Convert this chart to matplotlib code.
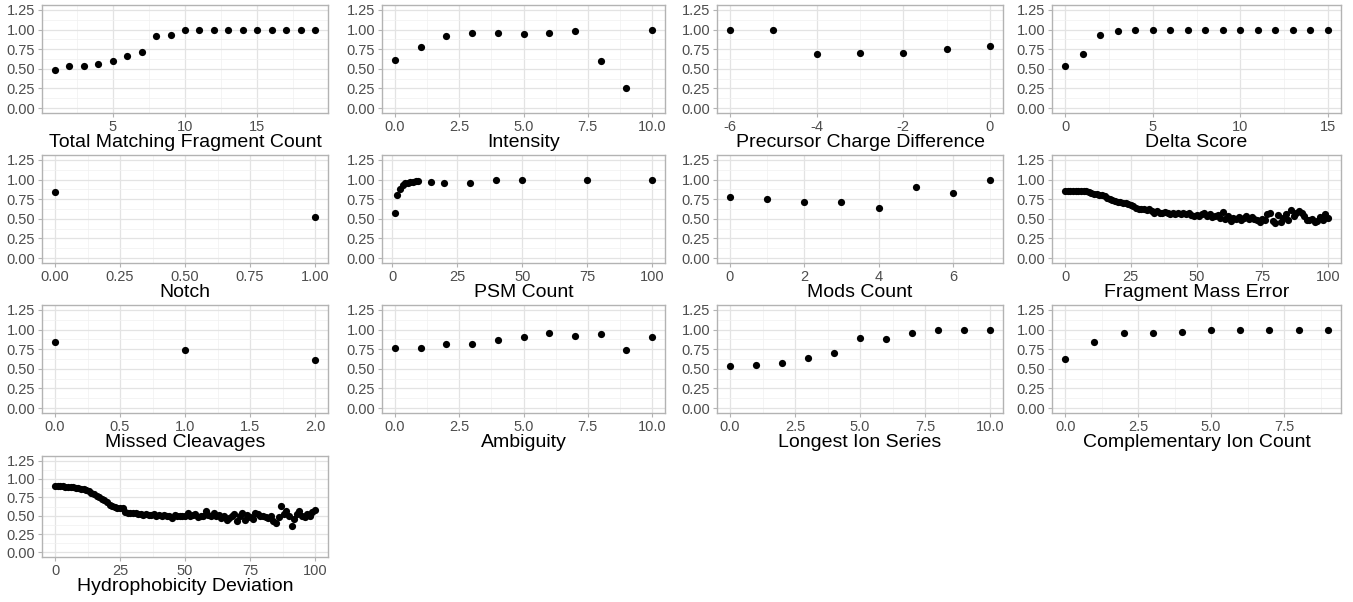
import numpy as np
import matplotlib.pyplot as plt
from matplotlib.ticker import FixedLocator

plt.rcParams['font.family'] = ['Liberation Sans', 'DejaVu Sans']

# 패널별 데이터 (그림에서 눈으로 읽은 값)
total_match_x = list(range(1, 20))
total_match_y = [0.48, 0.53, 0.54, 0.56, 0.60, 0.66, 0.72, 0.92, 0.93, 0.99,
                 1.00, 1.00, 0.99, 1.00, 1.00, 1.00, 1.00, 1.00, 1.00]

intensity_x = list(range(0, 11))
intensity_y = [0.61, 0.78, 0.92, 0.95, 0.96, 0.94, 0.96, 0.98, 0.60, 0.25, 1.00]

charge_x = [-6, -5, -4, -3, -2, -1, 0]
charge_y = [1.00, 1.00, 0.69, 0.70, 0.70, 0.75, 0.79]

delta_x = list(range(0, 16))
delta_y = [0.54, 0.69, 0.93, 0.98, 1.00, 1.00, 1.00, 1.00, 1.00, 1.00,
           1.00, 1.00, 1.00, 1.00, 1.00, 1.00]

notch_x = [0, 1]
notch_y = [0.84, 0.52]

psm_x = [1, 2, 3, 4, 5, 6, 7, 8, 9, 10, 15, 20, 30, 40, 50, 75, 100]
psm_y = [0.57, 0.80, 0.88, 0.93, 0.95, 0.96, 0.97, 0.97, 0.98, 0.98,
         0.97, 0.96, 0.95, 1.00, 1.00, 1.00, 1.00]

mods_x = [0, 1, 2, 3, 4, 5, 6, 7]
mods_y = [0.78, 0.75, 0.71, 0.72, 0.64, 0.90, 0.83, 1.00]

fme_x = list(range(0, 101))
fme_y = [0.85, 0.86, 0.86, 0.86, 0.86, 0.86,
         0.86, 0.85, 0.85, 0.84, 0.83,
         0.82, 0.81, 0.80, 0.80, 0.79,
         0.77, 0.75, 0.74, 0.73, 0.72,
         0.71, 0.70, 0.70, 0.69, 0.67,
         0.66, 0.64, 0.63, 0.63, 0.62,
         0.61, 0.62, 0.60, 0.58, 0.60,
         0.58, 0.57, 0.59, 0.57, 0.56,
         0.58, 0.56, 0.57, 0.56, 0.58,
         0.56, 0.57, 0.55, 0.53, 0.55,
         0.53, 0.56, 0.57, 0.53, 0.56,
         0.52, 0.53, 0.55, 0.51, 0.59,
         0.50, 0.53, 0.47, 0.51, 0.50,
         0.52, 0.49, 0.51, 0.53, 0.50,
         0.52, 0.50, 0.49, 0.46, 0.50,
         0.48, 0.56, 0.57, 0.47, 0.45,
         0.55, 0.46, 0.51, 0.56, 0.49,
         0.61, 0.54, 0.57, 0.60, 0.57,
         0.53, 0.49, 0.48, 0.50, 0.46,
         0.47, 0.52, 0.49, 0.56, 0.51]

missed_x = [0, 1, 2]
missed_y = [0.84, 0.74, 0.61]

ambig_x = list(range(0, 11))
ambig_y = [0.76, 0.77, 0.82, 0.82, 0.87, 0.91, 0.95, 0.92, 0.94, 0.74, 0.91]

longest_x = list(range(0, 11))
longest_y = [0.53, 0.55, 0.58, 0.64, 0.70, 0.89, 0.88, 0.96, 0.99, 0.99, 0.99]

comp_x = list(range(0, 10))
comp_y = [0.62, 0.84, 0.96, 0.95, 0.97, 1.00, 0.99, 1.00, 1.00, 1.00]

hyd_x = list(range(0, 101))
hyd_y = [0.91, 0.90, 0.90, 0.90, 0.89, 0.89,
         0.89, 0.89, 0.88, 0.88, 0.87,
         0.86, 0.85, 0.83, 0.81, 0.79,
         0.77, 0.75, 0.73, 0.71, 0.68,
         0.65, 0.63, 0.62, 0.61, 0.60,
         0.60, 0.55, 0.54, 0.54, 0.53,
         0.53, 0.52, 0.52, 0.51, 0.52,
         0.51, 0.51, 0.52, 0.50, 0.51,
         0.50, 0.51, 0.50, 0.50, 0.47,
         0.51, 0.49, 0.50, 0.50, 0.50,
         0.53, 0.50, 0.51, 0.52, 0.48,
         0.50, 0.49, 0.57, 0.51, 0.49,
         0.53, 0.50, 0.51, 0.47, 0.49,
         0.44, 0.47, 0.49, 0.52, 0.43,
         0.50, 0.53, 0.44, 0.51, 0.48,
         0.46, 0.53, 0.52, 0.49, 0.50,
         0.48, 0.47, 0.50, 0.43, 0.40,
         0.48, 0.63, 0.52, 0.57, 0.50,
         0.36, 0.46, 0.52, 0.57, 0.49,
         0.48, 0.52, 0.50, 0.55, 0.58]

panels = [
    ('Total Matching Fragment Count', total_match_x, total_match_y, [5, 10, 15], '{:.0f}'),
    ('Intensity', intensity_x, intensity_y, [0, 2.5, 5, 7.5, 10], '{:.1f}'),
    ('Precursor Charge Difference', charge_x, charge_y, [-6, -4, -2, 0], '{:.0f}'),
    ('Delta Score', delta_x, delta_y, [0, 5, 10, 15], '{:.0f}'),
    ('Notch', notch_x, notch_y, [0, 0.25, 0.5, 0.75, 1], '{:.2f}'),
    ('PSM Count', psm_x, psm_y, [0, 25, 50, 75, 100], '{:.0f}'),
    ('Mods Count', mods_x, mods_y, [0, 2, 4, 6], '{:.0f}'),
    ('Fragment Mass Error', fme_x, fme_y, [0, 25, 50, 75, 100], '{:.0f}'),
    ('Missed Cleavages', missed_x, missed_y, [0, 0.5, 1, 1.5, 2], '{:.1f}'),
    ('Ambiguity', ambig_x, ambig_y, [0, 2.5, 5, 7.5, 10], '{:.1f}'),
    ('Longest Ion Series', longest_x, longest_y, [0, 2.5, 5, 7.5, 10], '{:.1f}'),
    ('Complementary Ion Count', comp_x, comp_y, [0, 2.5, 5, 7.5], '{:.1f}'),
    ('Hydrophobicity Deviation', hyd_x, hyd_y, [0, 25, 50, 75, 100], '{:.0f}'),
]

W, H = 1353, 602
fig = plt.figure(figsize=(W / 100, H / 100), dpi=100)

col_left = [42, 382, 717, 1052]
col_right = [328, 665, 1003, 1341]
row_top = [5, 155, 305, 456]
row_h = [108, 108, 108, 101]

for i, (label, xs, ys, xt, fmt) in enumerate(panels):
    r, c = divmod(i, 4)
    l = col_left[c]
    w = col_right[c] - l
    t = row_top[r]
    h = row_h[r]
    ax = fig.add_axes([l / W, 1 - (t + h) / H, w / W, h / H])
    ax.scatter(xs, ys, s=27, color='black', zorder=3, linewidths=0)

    xmin, xmax = min(xs), max(xs)
    pad = (xmax - xmin) * 0.05
    ax.set_xlim(xmin - pad, xmax + pad)
    ax.set_ylim(-0.0625, 1.3125)

    ax.set_yticks([0, 0.25, 0.5, 0.75, 1.0, 1.25])
    ax.set_yticklabels(['0.00', '0.25', '0.50', '0.75', '1.00', '1.25'])
    ax.yaxis.set_minor_locator(FixedLocator([0.125, 0.375, 0.625, 0.875, 1.125]))
    ax.set_xticks(xt)
    ax.set_xticklabels([fmt.format(v) for v in xt])
    step = xt[1] - xt[0]
    minors = [xt[0] - step / 2] + [v + step / 2 for v in xt]
    ax.xaxis.set_minor_locator(FixedLocator(minors))

    ax.grid(which='major', color='#e3e3e3', lw=0.9, zorder=0)
    ax.grid(which='minor', color='#f0f0f0', lw=0.5, zorder=0)
    ax.set_axisbelow(True)
    for sp in ax.spines.values():
        sp.set_color('#b3b3b3')
        sp.set_linewidth(1.0)
    ax.tick_params(which='major', length=3, color='#b3b3b3', labelcolor='#4d4d4d',
                   labelsize=10.5, pad=2)
    ax.tick_params(which='minor', length=0)
    ax.set_xlabel(label, fontsize=14, color='black', labelpad=0)

fig.savefig('out.png', dpi=100)
